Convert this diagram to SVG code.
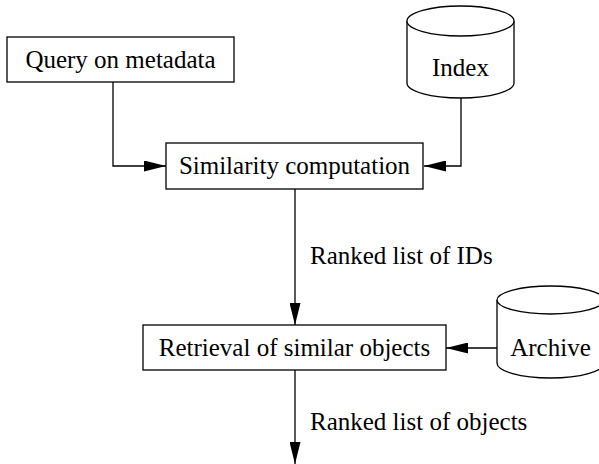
<svg xmlns="http://www.w3.org/2000/svg" width="599" height="464" viewBox="0 0 599 464">
<style>
.box{fill:#fff;stroke:#000;stroke-width:1.3}
.cyl{fill:#fff;stroke:#000;stroke-width:1.3}
.t{font-family:"Liberation Serif",serif;font-size:25px;fill:#000}
.m{text-anchor:middle}
.c{fill:none;stroke:#000;stroke-width:1.3}
</style>
<defs>
<marker id="ah" viewBox="0 0 22 11" refX="22" refY="5.5" markerWidth="22" markerHeight="11" markerUnits="userSpaceOnUse" orient="auto">
<path d="M0,0 L22,5.5 L0,11 Z" fill="#000"/>
</marker>
</defs>
<g id="connectors">
<path class="c" d="M113,82 V166 H166" marker-end="url(#ah)"/>
<path class="c" d="M461,98 V166 H424" marker-end="url(#ah)"/>
<path class="c" d="M295,189 V325" marker-end="url(#ah)"/>
<path class="c" d="M497,348 H446" marker-end="url(#ah)"/>
<path class="c" d="M295,370 V464" marker-end="url(#ah)"/>
<text class="t" x="310" y="264">Ranked list of IDs</text>
<text class="t" x="310" y="430">Ranked list of objects</text>
</g>
<g id="query">
<rect class="box" x="7" y="37" width="227" height="45"/>
<text class="t m" x="120.5" y="68">Query on metadata</text>
</g>
<g id="index">
<path class="cyl" d="M407,21 V83 A53.5,15 0 0 0 514,83 V21"/>
<ellipse class="cyl" cx="460.5" cy="21" rx="53.5" ry="15"/>
<text class="t m" x="460.5" y="76">Index</text>
</g>
<g id="similarity">
<rect class="box" x="166" y="143" width="257" height="46"/>
<text class="t m" x="294.5" y="174">Similarity computation</text>
</g>
<g id="retrieval">
<rect class="box" x="143" y="325" width="303" height="45"/>
<text class="t m" x="294.5" y="356">Retrieval of similar objects</text>
</g>
<g id="archive">
<path class="cyl" d="M497,300 V363 A53.5,15 0 0 0 604,363 V300"/>
<ellipse class="cyl" cx="550.5" cy="300" rx="53.5" ry="14"/>
<text class="t m" x="550.5" y="356">Archive</text>
</g>
</svg>
